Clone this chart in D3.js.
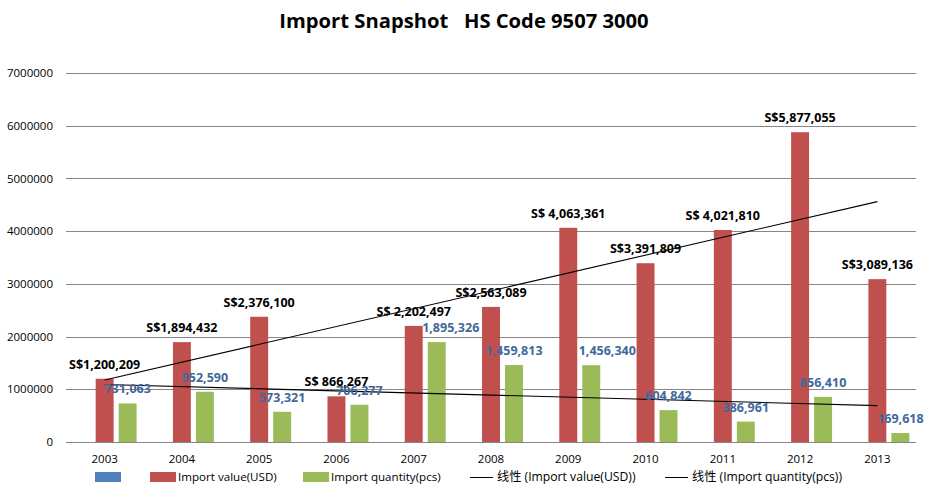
<!DOCTYPE html>
<html><head><meta charset="utf-8">
<script src="https://cdn.jsdelivr.net/npm/d3@7"></script>
<style>
html,body{margin:0;padding:0;background:#fff;}
svg{display:block;}
text{font-family:"Open Sans","Noto Sans CJK SC",sans-serif;}
</style></head>
<body>
<svg id="chart" width="929" height="495"></svg>
<script>
const years = ["2003","2004","2005","2006","2007","2008","2009","2010","2011","2012","2013"];
const importValue = [1200209,1894432,2376100,866267,2202497,2563089,4063361,3391809,4021810,5877055,3089136];
const importQty = [731063,952590,573321,706277,1895326,1459813,1456340,604842,386961,856410,169618];
const valueLabels = ["S$1,200,209","S$1,894,432","S$2,376,100","S$ 866,267","S$ 2,202,497","S$2,563,089","S$ 4,063,361","S$3,391,809","S$ 4,021,810","S$5,877,055","S$3,089,136"];
const qtyLabels = ["731,063","952,590","573,321","706,277","1,895,326","1,459,813","1,456,340","604,842","386,961","856,410","169,618"];
const yTicks = [0,1000000,2000000,3000000,4000000,5000000,6000000,7000000];
const seriesNames = ["", "Import value(USD)", "Import quantity(pcs)"];
const trendNames = ["线性 (Import value(USD))", "线性 (Import quantity(pcs))"];
const title = "Import Snapshot\u00a0\u00a0\u00a0HS Code 9507 3000";

// layout-only nudges for a few labels (px)
const qtyLabelNudge = {"2007": 14, "2009": 16};

const colors = {blank:"#4F81BD", value:"#C0504D", qty:"#9BBB59"};
const svg = d3.select("#chart");
const L = 66, R = 916, T = 73, B = 442;

const x = d3.scaleBand().domain(years).range([L, R]).padding(0);
const inner = d3.scaleBand().domain(["blank","value","qty"]).range([0, x.bandwidth()])
  .paddingInner(0.22).paddingOuter(0.29);
const y = d3.scaleLinear().domain([0, 7000000]).range([B, T]);

// title
svg.append("text").attr("x", 464).attr("y", 28).attr("text-anchor","middle")
  .attr("font-size", 20.2).attr("font-weight","bold").attr("fill","#000").text(title);

// gridlines
svg.append("g").selectAll("line").data(yTicks).join("line")
  .attr("x1", L).attr("x2", R).attr("y1", d=>Math.round(y(d))+0.5).attr("y2", d=>Math.round(y(d))+0.5)
  .attr("stroke","#868686").attr("stroke-width",1);

// y axis labels
const yAxis = d3.axisLeft(y).tickValues(yTicks).tickFormat(d3.format("d")).tickSize(0).tickPadding(13);
const ya = svg.append("g").attr("transform",`translate(${L},0)`).call(yAxis);
ya.select(".domain").remove();
ya.selectAll("text").attr("font-size",11.5).attr("fill","#000").attr("font-family","Open Sans");

// x axis labels
const xAxis = d3.axisBottom(x).tickSize(0).tickPadding(13);
const xa = svg.append("g").attr("transform",`translate(0,${B})`).call(xAxis);
xa.select(".domain").remove();
xa.selectAll("text").attr("font-size",11.5).attr("fill","#000").attr("font-family","Open Sans");

// bars
const bw = inner.bandwidth();
svg.append("g").selectAll("rect").data(years).join("rect")
  .attr("x", d=>x(d)+inner("value")).attr("width", bw)
  .attr("y", (d,i)=>y(importValue[i])).attr("height", (d,i)=>B - y(importValue[i]))
  .attr("fill", colors.value);
svg.append("g").selectAll("rect").data(years).join("rect")
  .attr("x", d=>x(d)+inner("qty")).attr("width", bw)
  .attr("y", (d,i)=>y(importQty[i])).attr("height", (d,i)=>B - y(importQty[i]))
  .attr("fill", colors.qty);

// linear trendlines
function fit(vals){
  const n = vals.length, xs = d3.range(1, n+1);
  const mx = d3.mean(xs), my = d3.mean(vals);
  let sxy=0, sxx=0;
  xs.forEach((xi,i)=>{ sxy += (xi-mx)*(vals[i]-my); sxx += (xi-mx)*(xi-mx); });
  const b = sxy/sxx, a = my - b*mx;
  return [a + b*1, a + b*n];
}
const cx = d => x(d) + x.bandwidth()/2;
[importValue, importQty].forEach(vals=>{
  const [y0, y1] = fit(vals);
  svg.append("line").attr("x1", cx(years[0])).attr("x2", cx(years[years.length-1]))
    .attr("y1", y(y0)).attr("y2", y(y1)).attr("stroke","#000").attr("stroke-width",1.1);
});

// data labels
svg.append("g").selectAll("text").data(years).join("text")
  .attr("x", d=>x(d)+inner("value")+bw/2).attr("y", (d,i)=>y(importValue[i]) - 10)
  .attr("text-anchor","middle").attr("font-size",12.5).attr("font-weight","bold").attr("fill","#000")
  .text((d,i)=>valueLabels[i]);
svg.append("g").selectAll("text").data(years).join("text")
  .attr("x", d=>x(d)+inner("qty")+bw/2 + (qtyLabelNudge[d]||0)).attr("y", (d,i)=>y(importQty[i]) - 10)
  .attr("text-anchor","middle").attr("font-size",12.5).attr("font-weight","bold").attr("fill","#41689b")
  .text((d,i)=>qtyLabels[i]);

// legend
const lg = svg.append("g").attr("font-size",11.6).attr("fill","#000");
const ly = 477;
const sw = [{x:95, c:colors.blank, t:seriesNames[0]},{x:150, c:colors.value, t:seriesNames[1]},{x:303, c:colors.qty, t:seriesNames[2]}];
sw.forEach(s=>{
  lg.append("rect").attr("x", s.x).attr("y", ly-5).attr("width", 26).attr("height", 10).attr("fill", s.c);
  lg.append("text").attr("x", s.x+28).attr("y", ly+4).text(s.t);
});
const tl = [{x:470, t:trendNames[0]},{x:665, t:trendNames[1]}];
tl.forEach(s=>{
  lg.append("line").attr("x1", s.x).attr("x2", s.x+23).attr("y1", ly+0.5).attr("y2", ly+0.5).attr("stroke","#000");
  lg.append("text").attr("x", s.x+27).attr("y", ly+4).attr("font-size",12.2).text(s.t);
});
</script>
</body></html>
